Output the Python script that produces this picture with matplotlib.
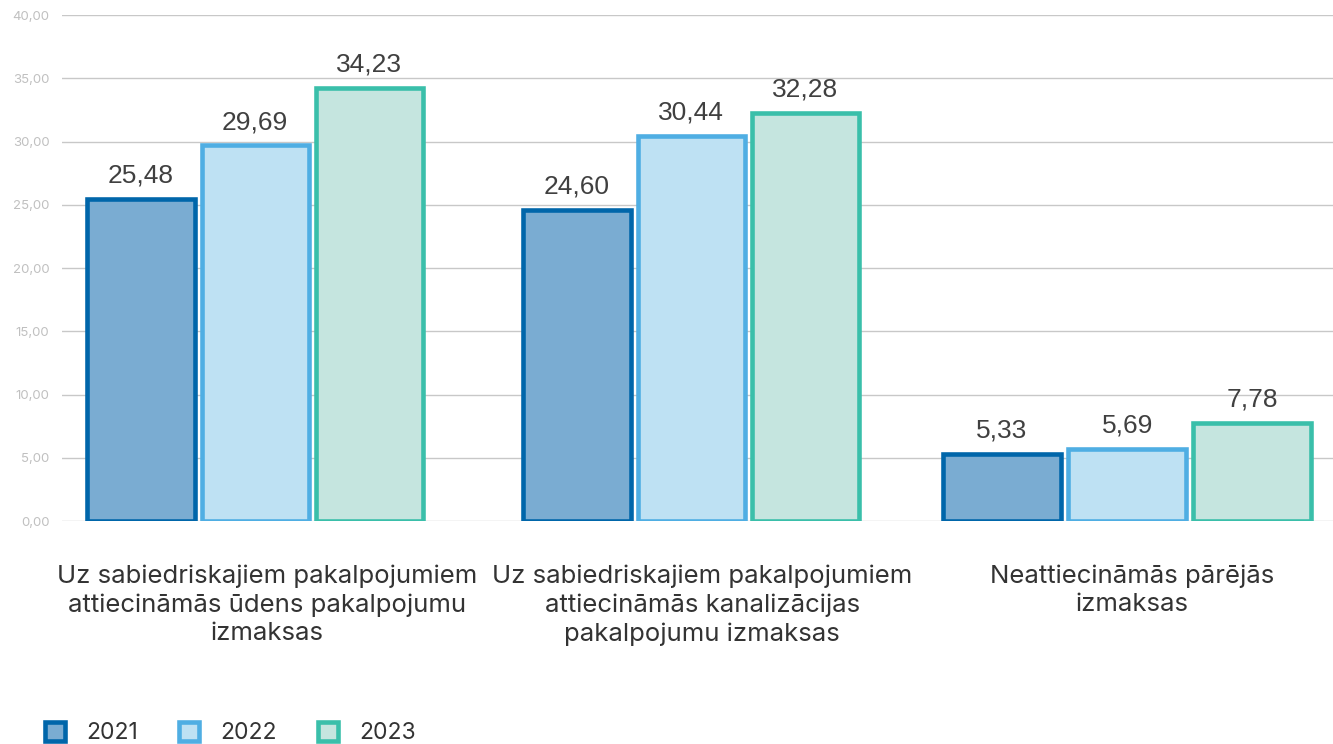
import numpy as np
import matplotlib.pyplot as plt
import matplotlib.transforms as mtransforms
from matplotlib.ticker import FuncFormatter

# data
categories = ['Uz sabiedriskajiem pakalpojumiem\nattiecināmās ūdens pakalpojumu\nizmaksas',
              'Uz sabiedriskajiem pakalpojumiem\nattiecināmās kanalizācijas\npakalpojumu izmaksas',
              'Neattiecināmās pārējās\nizmaksas']
years = ['2021', '2022', '2023']
v2021 = [25.48, 24.60, 5.33]
v2022 = [29.69, 30.44, 5.69]
v2023 = [34.23, 32.28, 7.78]

fills = ['#7AACD2', '#BEE1F3', '#C5E5DF']
edges = ['#0066AA', '#4FAEE3', '#3ABFAA']

fig = plt.figure(figsize=(13.33, 7.44), dpi=100)
ax = fig.add_axes([0.0465, 0.2997, 0.9535, 0.6801])

x = np.arange(len(categories))
# last group is drawn a bit wider in the original
step = np.array([0.262, 0.262, 0.287])
width = np.array([0.246, 0.246, 0.271])
series = [v2021, v2022, v2023]
for i, vals in enumerate(series):
    pos = x + (i - 1) * step
    bars = ax.bar(pos, vals, width, color=fills[i], edgecolor=edges[i],
                  linewidth=3.3, label=years[i], zorder=3)
    for b, v in zip(bars, vals):
        ax.text(b.get_x() + b.get_width() / 2, v + 0.9,
                f'{v:.2f}'.replace('.', ','), ha='center', va='bottom',
                fontsize=19, color='#404040', family='Liberation Sans')

ax.set_ylim(0, 40)
ax.set_xlim(-0.443, 2.472)
ax.set_yticks(np.arange(0, 41, 5))
ax.yaxis.set_major_formatter(FuncFormatter(lambda v, p: f'{v:.2f}'.replace('.', ',')))
ax.grid(axis='y', color='#C8C8C8', linewidth=1.0, zorder=0)
ax.tick_params(axis='y', length=0, pad=9, labelsize=9.5, labelcolor='#C0C0C0')
for lbl in ax.get_yticklabels():
    lbl.set_family('Inter')

# category labels, nudged right a little like the original
ax.set_xticks(x)
ax.set_xticklabels(categories, fontsize=18.5, color='#333333', family='Inter',
                   linespacing=1.3)
ax.tick_params(axis='x', length=0, pad=31)
for lbl, dx in zip(ax.get_xticklabels(), [12, 11, 5]):
    lbl.set_transform(lbl.get_transform() + mtransforms.ScaledTranslation(dx / 100, 0, fig.dpi_scale_trans))

for s in ax.spines.values():
    s.set_visible(False)

leg = fig.legend(loc='lower left', bbox_to_anchor=(0.018, -0.028), ncol=3, frameon=False,
                 prop={'family': 'Inter', 'size': 16.5}, handlelength=0.9,
                 handleheight=0.9, handletextpad=0.9, columnspacing=1.8)
for t in leg.get_texts():
    t.set_color('#333333')

fig.savefig('out.png', dpi=100)
